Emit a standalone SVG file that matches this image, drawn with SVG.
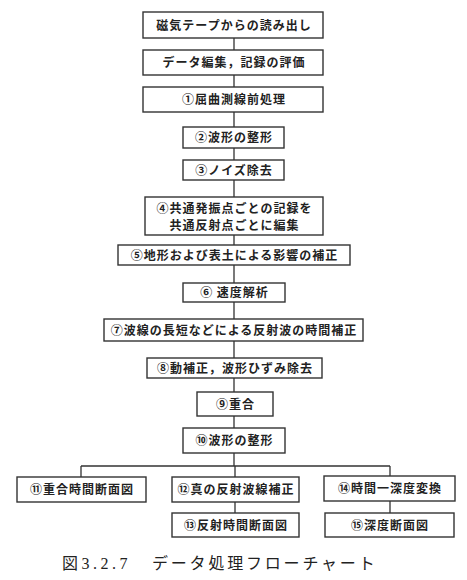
<svg xmlns="http://www.w3.org/2000/svg" width="467" height="580" viewBox="0 0 467 580">
<style>
.b{fill:#fff;stroke:#333;stroke-width:1.4}
.t{font-family:"Noto Sans CJK JP","Noto Sans",sans-serif;font-weight:bold;font-size:12px;letter-spacing:1px;fill:#222;text-anchor:middle}
.c{fill:none;stroke:#333;stroke-width:1.3}
.cap{font-family:"Liberation Serif","Noto Sans CJK JP",serif;font-size:16px;fill:#222}
</style>
<rect width="467" height="580" fill="#fff"/>
<g id="connectors">
<path class="c" d="M234 38V50M234 75V87M234 112V127M234 148V160M234 180V197M234 235V245M234 265V283M234 302V319M234 341V358M234 378V392M234 416V428M234 453V466M81 466H390M81 466V477M235 466V477M390 466V476M235 502V513M390 501V513"/>
</g>
<g id="n1"><rect class="b" x="143" y="12" width="180" height="26"/><text class="t" x="234" y="29.5">磁気テープからの読み出し</text></g>
<g id="n2"><rect class="b" x="143" y="50" width="180" height="25"/><text class="t" x="234" y="67">データ編集，記録の評価</text></g>
<g id="n3"><rect class="b" x="143" y="87" width="180" height="25"/><text class="t" x="234" y="104">①屈曲測線前処理</text></g>
<g id="n4"><rect class="b" x="183" y="127" width="101" height="21"/><text class="t" x="234" y="142">②波形の整形</text></g>
<g id="n5"><rect class="b" x="183" y="160" width="101" height="20"/><text class="t" x="234" y="174.5">③ノイズ除去</text></g>
<g id="n6"><rect class="b" x="145" y="197" width="178" height="38"/><text class="t" x="234.5" y="212.5">④共通発振点ごとの記録を</text><text class="t" x="234.5" y="229.5">共通反射点ごとに編集</text></g>
<g id="n7"><rect class="b" x="118" y="245" width="232" height="20"/><text class="t" x="234.5" y="259.5">⑤地形および表土による影響の補正</text></g>
<g id="n8"><rect class="b" x="183" y="283" width="102" height="19"/><text class="t" x="234.5" y="297">⑥ 速度解析</text></g>
<g id="n9"><rect class="b" x="104" y="319" width="259" height="22"/><text class="t" x="234" y="334.5">⑦波線の長短などによる反射波の時間補正</text></g>
<g id="n10"><rect class="b" x="147" y="358" width="175" height="20"/><text class="t" x="235" y="372.5">⑧動補正，波形ひずみ除去</text></g>
<g id="n11"><rect class="b" x="197" y="392" width="76" height="24"/><text class="t" x="235.5" y="408.5">⑨重合</text></g>
<g id="n12"><rect class="b" x="183" y="428" width="102" height="25"/><text class="t" x="234.5" y="445">⑩波形の整形</text></g>
<g id="n13"><rect class="b" x="17" y="477" width="129" height="25"/><text class="t" x="82" y="494">⑪重合時間断面図</text></g>
<g id="n14"><rect class="b" x="172" y="477" width="127" height="25"/><text class="t" x="236" y="494">⑫真の反射波線補正</text></g>
<g id="n15"><rect class="b" x="172" y="513" width="127" height="24"/><text class="t" x="236" y="529.5">⑬反射時間断面図</text></g>
<g id="n16"><rect class="b" x="324" y="476" width="131" height="25"/><text class="t" x="390" y="493">⑭時間一深度変換</text></g>
<g id="n17"><rect class="b" x="325" y="513" width="129" height="24"/><text class="t" x="390" y="529.5">⑮深度断面図</text></g>
<g id="caption">
<text class="cap" x="62" y="569" style="letter-spacing:3.5px">図3.2.7</text>
<text class="cap" x="152" y="569" style="letter-spacing:2.8px">データ処理フローチャート</text>
</g>
</svg>
